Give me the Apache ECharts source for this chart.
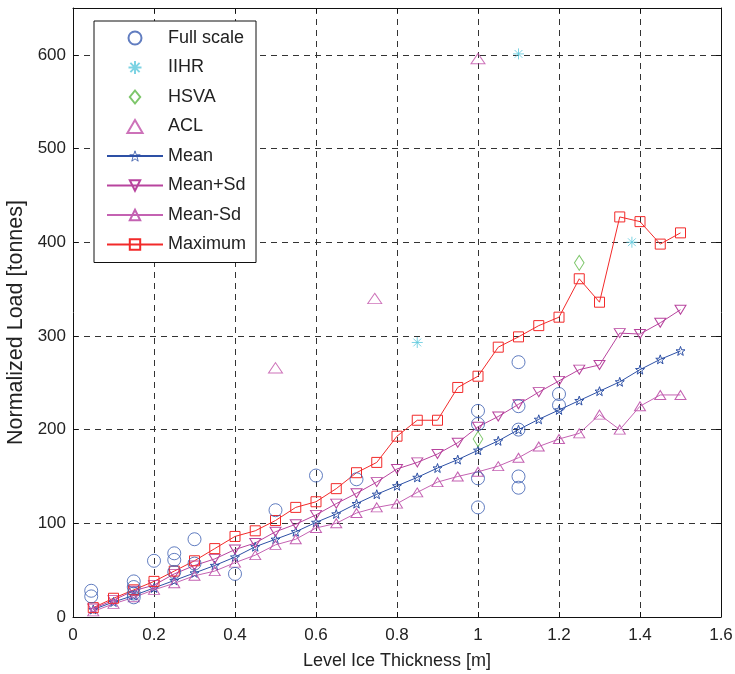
<!DOCTYPE html>
<html>
<head>
<meta charset="utf-8">
<script src="https://cdn.jsdelivr.net/npm/echarts@6/dist/echarts.min.js"></script>
<style>
  html, body { margin: 0; padding: 0; background: #fff; }
  #chart { width: 735px; height: 674px; }
</style>
</head>
<body>
<div id="chart"></div>
<script>
// ice thickness steps used for the statistics curves
var thickness = [0.05, 0.1, 0.15, 0.2, 0.25, 0.3, 0.35, 0.4, 0.45, 0.5,
                 0.55, 0.6, 0.65, 0.7, 0.75, 0.8, 0.85, 0.9, 0.95, 1.0,
                 1.05, 1.1, 1.15, 1.2, 1.25, 1.3, 1.35, 1.4, 1.45, 1.5];

var meanLoad    = [8, 16, 23, 31, 39, 47, 55, 64, 75, 83, 91, 101, 110, 121, 131,
                   140, 149, 159, 168, 178, 188, 200, 211, 221, 231, 241, 251, 264, 275, 284];
var meanPlusSd  = [9, 18, 28, 34, 46, 55, 62, 72, 79, 91, 99, 109, 121, 132, 144,
                   158, 165, 174, 186, 203, 214, 227, 240, 252, 264, 269, 303, 302, 314, 328];
var meanMinusSd = [6, 14, 21, 29, 36, 44, 49, 58, 66, 77, 83, 95, 100, 111, 117,
                   121, 133, 144, 150, 155, 161, 170, 182, 190, 196, 216, 200, 225, 237, 237];
var maxLoad     = [10, 20, 29, 38, 49, 60, 73, 86, 92, 103, 117, 123, 137, 154, 165,
                   193, 210, 210, 245, 257, 288, 299, 311, 320, 361, 336, 427, 422, 398, 410];

// measured points [thickness, load]
var fullScale = [[0.045, 28], [0.045, 22], [0.15, 38], [0.15, 32], [0.15, 25], [0.15, 21],
                 [0.2, 60], [0.25, 68], [0.25, 61], [0.25, 48], [0.3, 83], [0.3, 57],
                 [0.4, 46], [0.5, 114], [0.6, 151], [0.7, 147],
                 [1.0, 220], [1.0, 206], [1.0, 148], [1.0, 117],
                 [1.1, 272], [1.1, 225], [1.1, 200], [1.1, 150], [1.1, 138],
                 [1.2, 238], [1.2, 226]];
var iihr = [[0.85, 293], [1.1, 601], [1.38, 400]];
var hsva = [[1.0, 190], [1.25, 378]];
var acl  = [[0.5, 266], [0.745, 340], [1.0, 596]];

var yTicks = [0, 100, 200, 300, 400, 500, 600];

// marker shapes (matlab style)
var STAR = 'path://M0,-10L2.35,-3.24L9.51,-3.09L3.8,1.24L5.88,8.09L0,4L-5.88,8.09L-3.8,1.24L-9.51,-3.09L-2.35,-3.24Z';
var ASTER = 'path://M0,-10L0,10M-10,0L10,0M-7.1,-7.1L7.1,7.1M-7.1,7.1L7.1,-7.1';
var DIAMOND = 'path://M0,-7.5L6,0L0,7.5L-6,0Z';
var TRI = 'path://M0,-6L7,6L-7,6Z';
var FONT = '"Liberation Sans", Arial, Helvetica, sans-serif';

function pairs(xs, ys) {
  return xs.map(function (x, i) { return [x, ys[i]]; });
}

function hollow(c) {
  return { color: 'rgba(255,255,255,0)', borderColor: c, borderWidth: 1 };
}

function curve(name, ys, color, symbol, size, rotate) {
  return {
    name: name, type: 'line', data: pairs(thickness, ys),
    symbol: symbol, symbolSize: size, symbolRotate: rotate || 0,
    showAllSymbol: true,
    lineStyle: { color: color, width: 1 },
    itemStyle: hollow(color),
    z: 3
  };
}

function points(name, data, color, symbol, size) {
  return {
    name: name, type: 'scatter', data: data,
    symbol: symbol, symbolSize: size, symbolKeepAspect: true,
    itemStyle: hollow(color),
    z: 4
  };
}

var chart = echarts.init(document.getElementById('chart'));

var gridLine = { show: true, lineStyle: { color: '#333', width: 1, type: [6, 5] } };
var frameLine = { show: true, onZero: false, lineStyle: { color: '#111', width: 1 } };
var inTick = { show: true, inside: true, length: 5, lineStyle: { color: '#111' } };

chart.setOption({
  animation: false,
  textStyle: { fontFamily: FONT },
  grid: { left: 73, right: 14, top: 8, bottom: 57, show: false, outerBoundsMode: 'none', containLabel: false },
  legend: {
    orient: 'vertical',
    left: 94, top: 21,
    padding: [8, 10, 9, 12],
    itemWidth: 56, itemHeight: 13, itemGap: 11.5,
    backgroundColor: '#fff',
    borderColor: '#111', borderWidth: 1,
    textStyle: { fontSize: 18, color: '#222', fontFamily: FONT },
    data: ['Full scale', 'IIHR', 'HSVA', 'ACL',
           { name: 'Mean', itemStyle: { borderWidth: 0.8 } },
           'Mean+Sd', 'Mean-Sd', 'Maximum']
  },
  xAxis: [{
    type: 'value', min: 0, max: 1.6, interval: 0.2,
    name: 'Level Ice Thickness [m]', nameLocation: 'middle', nameGap: 35,
    nameTextStyle: { fontSize: 18, color: '#222' },
    axisLine: frameLine, axisTick: inTick,
    axisLabel: { fontSize: 17, color: '#222', margin: 10 },
    splitLine: gridLine
  }, {
    type: 'value', min: 0, max: 1.6, interval: 0.2, position: 'top',
    axisLine: frameLine, axisTick: inTick,
    axisLabel: { show: false }, splitLine: { show: false }
  }],
  yAxis: [{
    type: 'value', min: 0, max: 650, interval: 100,
    name: 'Normalized Load [tonnes]', nameLocation: 'middle', nameGap: 44,
    nameTextStyle: { fontSize: 21.5, color: '#222', padding: [0, 20, 0, 0] },
    axisLine: frameLine, axisTick: inTick,
    axisLabel: {
      fontSize: 17, color: '#222', margin: 7,
      formatter: function (v) { return yTicks.indexOf(v) >= 0 ? String(v) : ''; }
    },
    splitLine: gridLine
  }, {
    type: 'value', min: 0, max: 650, interval: 100, position: 'right',
    axisLine: frameLine, axisTick: inTick,
    axisLabel: { show: false }, splitLine: { show: false }
  }],
  series: [
    points('Full scale', fullScale, '#3a5cb0', 'circle', 13),
    points('IIHR', iihr, '#5cc8dc', ASTER, 11),
    points('HSVA', hsva, '#5cb845', DIAMOND, [12, 15]),
    points('ACL', acl, '#c04fa8', TRI, [14, 12]),
    curve('Mean', meanLoad, '#2d50a5', STAR, 9),
    curve('Mean+Sd', meanPlusSd, '#b8449e', 'triangle', [11, 9], 180),
    curve('Mean-Sd', meanMinusSd, '#c462b2', 'triangle', [11, 9]),
    curve('Maximum', maxLoad, '#f22a2a', 'rect', 10)
  ]
});
</script>
</body>
</html>
